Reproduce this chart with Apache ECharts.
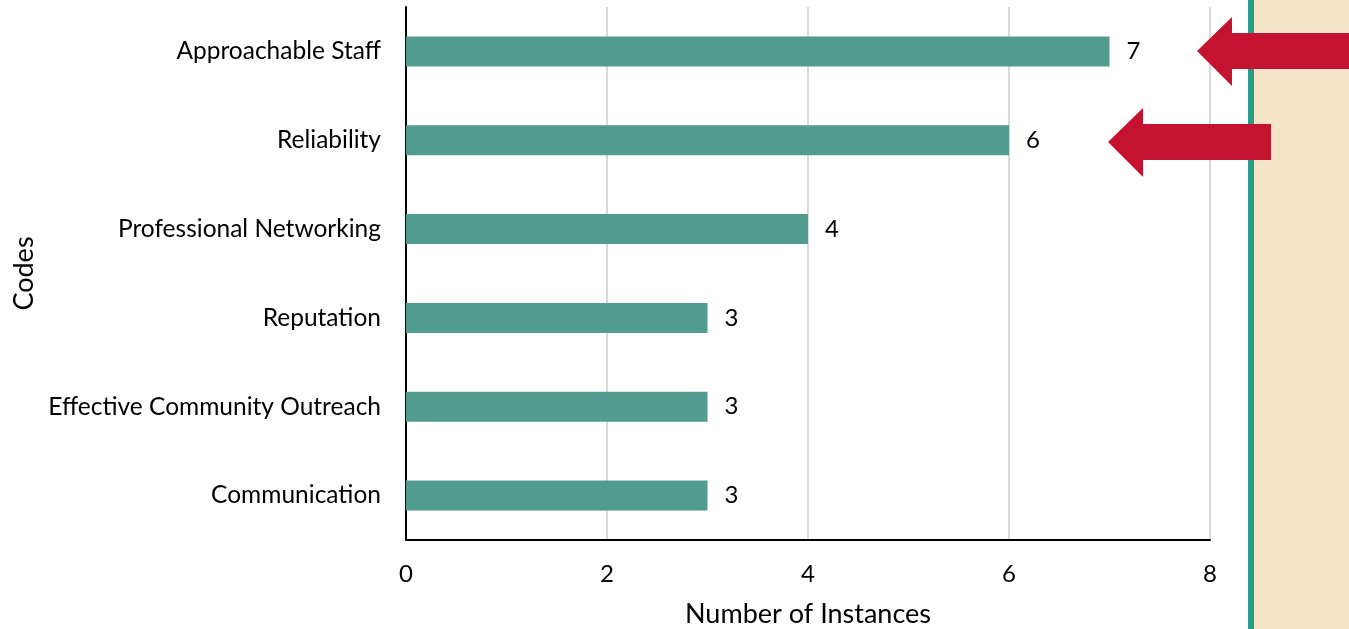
<!DOCTYPE html>
<html><head><meta charset="utf-8">
<script src="https://cdn.jsdelivr.net/npm/echarts@6/dist/echarts.min.js"></script>
<style>html,body{margin:0;padding:0;background:#fff}#c{width:1349px;height:629px}</style>
</head><body><div id="c"></div>
<script>
const categories = ["Communication","Effective Community Outreach","Reputation","Professional Networking","Reliability","Approachable Staff"];
const instances = [3,3,3,4,6,7];
const xTicks = [0,2,4,6,8];

const FONT = "Lato";
const chart = echarts.init(document.getElementById('c'), null, {renderer:'canvas'});
chart.setOption({
  animation:false,
  backgroundColor:'#ffffff',
  grid:{left:406,right:139,top:7,bottom:89,containLabel:false,outerBoundsMode:'none'},
  xAxis:{
    type:'value', min:xTicks[0], max:xTicks[xTicks.length-1], interval:2,
    name:'Number of Instances', nameLocation:'middle', nameGap:61,
    nameTextStyle:{fontFamily:FONT,fontSize:27,color:'#000'},
    axisLine:{show:true,lineStyle:{color:'#000',width:2}},
    axisTick:{show:false},
    axisLabel:{fontFamily:FONT,fontSize:24,color:'#000',margin:22},
    splitLine:{show:true,lineStyle:{color:'#d9d9d9',width:2}}
  },
  yAxis:{
    type:'category', data:categories,
    name:'Codes', nameLocation:'middle', nameGap:368,
    nameTextStyle:{fontFamily:FONT,fontSize:27,color:'#000'},
    axisLine:{show:true,lineStyle:{color:'#000',width:2}},
    axisTick:{show:false},
    axisLabel:{fontFamily:FONT,fontSize:24.5,color:'#000',margin:25}
  },
  series:[{
    type:'bar', data:instances, barWidth:30,
    itemStyle:{color:'#519b8f'},
    label:{show:true,position:'right',distance:17,fontFamily:FONT,fontSize:24,color:'#000'}
  }],
  graphic:[
    {type:'rect',shape:{x:1254,y:0,width:95,height:629},style:{fill:'#f5e4c8'},z:1},
    {type:'rect',shape:{x:1248,y:0,width:6,height:629},style:{fill:'#2a9d8a'},z:2},
    {type:'polygon',shape:{points:[[1197,51],[1232,17],[1232,33],[1349,33],[1349,69],[1232,69],[1232,86]]},style:{fill:'#c41230'},z:3},
    {type:'polygon',shape:{points:[[1108,142],[1143,108],[1143,124],[1271,124],[1271,160],[1143,160],[1143,177]]},style:{fill:'#c41230'},z:3}
  ]
});
</script></body></html>
